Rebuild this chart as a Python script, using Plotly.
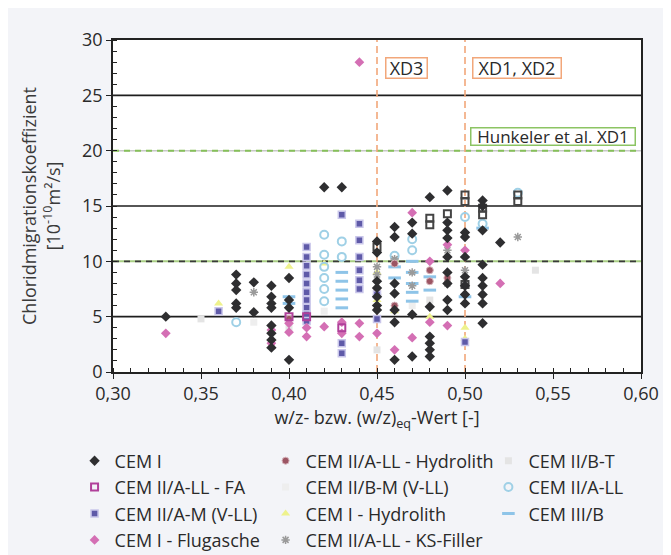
import plotly.graph_objects as go

# ---------------- data ----------------
cem1_x = [0.33,
          0.37, 0.37, 0.37, 0.37, 0.37,
          0.38, 0.38,
          0.39, 0.39, 0.39, 0.39, 0.39, 0.39, 0.39, 0.39,
          0.40, 0.40, 0.40, 0.40,
          0.42, 0.43,
          0.45, 0.45, 0.45, 0.45, 0.45, 0.45, 0.45,
          0.46, 0.46, 0.46, 0.46, 0.46, 0.46, 0.46,
          0.47, 0.47, 0.47, 0.47,
          0.48, 0.48, 0.48, 0.48, 0.48, 0.48,
          0.49, 0.49, 0.49, 0.49, 0.49, 0.49, 0.49, 0.49, 0.49,
          0.50, 0.50, 0.50, 0.50, 0.50, 0.50, 0.50,
          0.51, 0.51, 0.51, 0.51, 0.51, 0.51, 0.51, 0.51, 0.51,
          0.52]
cem1_y = [5.0,
          8.8, 8.0, 7.4, 6.2, 5.8,
          8.1, 5.4,
          7.8, 6.8, 6.2, 5.8, 4.2, 3.5, 2.9, 2.2,
          8.5, 6.5, 5.8, 1.1,
          16.7, 16.7,
          11.8, 10.8, 8.2, 7.6, 6.8, 6.0, 5.6,
          13.1, 12.2, 8.0, 7.1, 5.6, 4.5, 1.1,
          13.5, 12.5, 5.2, 1.4,
          15.8, 5.9, 3.2, 2.6, 2.0, 1.4,
          16.4, 13.5, 12.8, 12.1, 10.4, 9.0, 8.0, 6.5, 5.6,
          12.6, 12.2, 10.4, 8.6, 7.8, 7.0, 6.2,
          15.5, 15.0, 12.8, 9.7, 8.5, 7.8, 7.0, 6.2, 4.4,
          11.7]

fa_x = [0.40, 0.41, 0.43]
fa_y = [5.0, 5.0, 4.0]
fa_dark_x = [0.45, 0.48, 0.48, 0.49, 0.50, 0.50, 0.50, 0.51, 0.51, 0.53, 0.53]
fa_dark_y = [11.3, 13.9, 13.3, 14.3, 16.0, 15.4, 7.9, 14.8, 14.2, 16.0, 15.4]

am_x = [0.36,
        0.41, 0.41, 0.41, 0.41, 0.41, 0.41, 0.41, 0.41, 0.41, 0.41,
        0.43, 0.43, 0.43,
        0.44, 0.44, 0.44, 0.44, 0.44, 0.44,
        0.45, 0.45, 0.50]
am_y = [5.5,
        11.3, 10.4, 9.6, 8.8, 8.0, 7.2, 6.5, 5.8, 5.2, 4.6,
        14.2, 2.6, 1.7,
        13.4, 11.9, 10.4, 9.2, 8.3, 7.5,
        7.0, 4.8, 2.7]

flug_x = [0.33, 0.39, 0.39, 0.40, 0.40, 0.41, 0.41, 0.42, 0.43, 0.43,
          0.44, 0.44, 0.44, 0.45, 0.46, 0.47, 0.47, 0.48, 0.48, 0.49, 0.49,
          0.50, 0.52]
flug_y = [3.5, 3.8, 2.6, 4.4, 3.6, 4.0, 3.2, 4.1, 4.5, 3.5,
          28.0, 4.4, 3.2, 3.5, 2.0, 14.4, 3.1, 4.5, 10.0, 11.5, 4.2,
          11.0, 8.0]

hydll_x = [0.39, 0.40, 0.45, 0.46, 0.46, 0.48, 0.48, 0.49]
hydll_y = [2.6, 4.8, 7.3, 6.0, 9.8, 8.2, 9.2, 8.5]

bm_x = [0.38, 0.42, 0.45, 0.47]
bm_y = [4.5, 5.5, 8.5, 6.0]

hyd1_x = [0.36, 0.40, 0.42, 0.45, 0.45, 0.46, 0.48, 0.50, 0.50]
hyd1_y = [6.2, 9.5, 9.8, 9.0, 6.5, 5.5, 5.0, 4.0, 3.0]

ks_x = [0.38, 0.45, 0.45, 0.45, 0.46, 0.47, 0.47, 0.49, 0.49, 0.50, 0.50, 0.53]
ks_y = [7.2, 9.5, 8.8, 7.0, 10.2, 9.0, 7.8, 11.0, 8.0, 8.0, 9.2, 12.2]

bt_x = [0.35, 0.40, 0.45, 0.48, 0.54]
bt_y = [4.8, 4.0, 2.0, 6.5, 9.2]

all_x = [0.37, 0.42, 0.42, 0.42, 0.42, 0.42, 0.42, 0.43, 0.43, 0.46,
         0.47, 0.47, 0.50, 0.51, 0.53]
all_y = [4.5, 12.4, 10.6, 9.5, 8.5, 7.5, 6.4, 11.8, 10.4, 10.5,
         12.0, 11.0, 14.0, 13.4, 16.2]

c3b_x = [0.40, 0.40, 0.43, 0.43, 0.43, 0.43, 0.43, 0.46, 0.46,
         0.47, 0.47, 0.47, 0.47, 0.47, 0.48, 0.48, 0.50, 0.51]
c3b_y = [6.8, 6.2, 9.0, 8.2, 7.4, 6.6, 5.8, 9.5, 8.5,
         10.0, 9.0, 8.0, 7.2, 6.4, 8.6, 7.4, 6.8, 13.0]

grid_solid_y = [5, 15, 25]
limit_10 = 10
limit_20 = 20
wz_limits = [0.45, 0.50]
x_ticks = [0.30, 0.35, 0.40, 0.45, 0.50, 0.55, 0.60]
y_ticks = [0, 5, 10, 15, 20, 25, 30]

FONT = "Open Sans"
TXT = "#2a2a2a"
fig = go.Figure()


def add(name, x, y, legend, rank, marker, showlegend=True):
    fig.add_trace(go.Scatter(x=x, y=y, mode="markers", name=name, legend=legend,
                             legendrank=rank, marker=marker, showlegend=showlegend,
                             legendgroup=name))


add("CEM II/B-T", bt_x, bt_y, "legend3", 1,
    dict(symbol="square", size=7, color="#e4e4e4", line=dict(width=0)))
add("CEM II/B-M (V-LL)", bm_x, bm_y, "legend2", 2,
    dict(symbol="square", size=7, color="#eeeeee", line=dict(width=0)))
add("CEM I - Hydrolith", hyd1_x, hyd1_y, "legend2", 3,
    dict(symbol="triangle-up", size=8, color="#eef28c", line=dict(width=0)))
add("CEM III/B", c3b_x, c3b_y, "legend3", 3,
    dict(symbol="line-ew", size=9, color="#8ec4e8", line=dict(width=3, color="#8ec4e8")))
add("CEM II/A-LL", all_x, all_y, "legend3", 2,
    dict(symbol="circle-open", size=8, color="#9fd0e6", line=dict(width=2, color="#9fd0e6")))
add("CEM II/A-LL - KS-Filler", ks_x, ks_y, "legend2", 4,
    dict(symbol="asterisk-open", size=7, color="#9a9a9a", line=dict(width=1.5, color="#9a9a9a")))
add("CEM II/A-LL - Hydrolith", hydll_x, hydll_y, "legend2", 1,
    dict(symbol="circle", size=7, color="#9c5563", line=dict(width=1, color="#d6b3bb")))
add("CEM II/A-M (V-LL)", am_x, am_y, "legend", 3,
    dict(symbol="square", size=7, color="#5f5aa8", line=dict(width=1.5, color="#c9c6ea")))
add("CEM I - Flugasche", flug_x, flug_y, "legend", 4,
    dict(symbol="diamond", size=7.5, color="#d46fb4", line=dict(width=0)))
add("CEM II/A-LL - FA", fa_x, fa_y, "legend", 2,
    dict(symbol="square-open", size=7, color="#b0409a", line=dict(width=2, color="#b0409a")))
add("CEM II/A-LL - FA", fa_dark_x, fa_dark_y, "legend", 2,
    dict(symbol="square-open", size=7, color="#444444", line=dict(width=2, color="#444444")),
    showlegend=False)
add("CEM I", cem1_x, cem1_y, "legend", 1,
    dict(symbol="diamond", size=8, color="#2e2e30", line=dict(width=0)))

shapes = []
for gy in grid_solid_y:
    shapes.append(dict(type="line", xref="paper", yref="y", x0=0, x1=1, y0=gy, y1=gy,
                       line=dict(color="#1e1e1e", width=1.6), layer="below"))
shapes.append(dict(type="line", xref="paper", yref="y", x0=0, x1=1, y0=limit_10, y1=limit_10,
                   line=dict(color="#a9cf84", width=2), layer="below"))
shapes.append(dict(type="line", xref="paper", yref="y", x0=0, x1=1, y0=limit_10, y1=limit_10,
                   line=dict(color="#3a3a3a", width=1.6, dash="6px,5px"), layer="below"))
shapes.append(dict(type="line", xref="paper", yref="y", x0=0, x1=1, y0=limit_20, y1=limit_20,
                   line=dict(color="#c8c8c8", width=1.5), layer="below"))
shapes.append(dict(type="line", xref="paper", yref="y", x0=0, x1=1, y0=limit_20, y1=limit_20,
                   line=dict(color="#86c05a", width=2, dash="6px,5px"), layer="below"))
for vx in wz_limits:
    shapes.append(dict(type="line", xref="x", yref="y", x0=vx, x1=vx, y0=0, y1=30,
                       line=dict(color="#f2a77a", width=1.6, dash="7px,4px"), layer="below"))

annotations = [
    dict(x=0.4665, y=27.5, xref="x", yref="y", text="XD3", showarrow=False,
         width=38, height=17, font=dict(family=FONT, size=18, color=TXT),
         bordercolor="#f2a77a", borderwidth=1.5, borderpad=1, bgcolor="white"),
    dict(x=0.5294, y=27.5, xref="x", yref="y", text="XD1, XD2", showarrow=False,
         width=85, height=17, font=dict(family=FONT, size=18, color=TXT),
         bordercolor="#f2a77a", borderwidth=1.5, borderpad=1, bgcolor="white"),
    dict(x=0.5501, y=21.3, xref="x", yref="y", text="Hunkeler et al. XD1", showarrow=False,
         width=161, height=14, font=dict(family=FONT, size=17, color=TXT),
         bordercolor="#8cc463", borderwidth=1.5, borderpad=1, bgcolor="white"),
]

leg_common = dict(orientation="v", xanchor="left", yanchor="top", xref="paper",
                  yref="container", y=0.2057, bgcolor="rgba(0,0,0,0)",
                  font=dict(family=FONT, size=18, color=TXT), tracegroupgap=0,
                  itemsizing="trace", traceorder="normal")

# The page body has an 8px margin, so the figure is drawn 8px smaller and
# all layout positions are offset accordingly.
fig.update_layout(
    width=663, height=547,
    margin=dict(l=105, r=22, t=32, b=183),
    paper_bgcolor="#f3f4f8", plot_bgcolor="white",
    separators=",.",
    font=dict(family=FONT, color=TXT),
    shapes=shapes, annotations=annotations,
    legend=dict(x=-0.0728, **leg_common),
    legend2=dict(x=0.289, **leg_common),
    legend3=dict(x=0.711, **leg_common),
    xaxis=dict(range=[0.30, 0.60], tickvals=x_ticks, tickformat=".2f",
               showgrid=False, zeroline=False, showline=True, linecolor="#222",
               linewidth=1.5, mirror=True, ticks="outside", ticklen=5, tickcolor="#222",
               tickfont=dict(family=FONT, size=18, color=TXT),
               minor=dict(dtick=0.01, ticks="inside", ticklen=4, tickcolor="#222"),
               title=dict(text="w/z- bzw. (w/z)<sub>eq</sub>-Wert [-]",
                          font=dict(family=FONT, size=18, color=TXT), standoff=2)),
    yaxis=dict(range=[0, 30], tickvals=y_ticks, showgrid=False, zeroline=False,
               showline=True, linecolor="#222", linewidth=1.5, mirror=True,
               ticks="outside", ticklen=5, tickcolor="#222",
               tickfont=dict(family=FONT, size=18, color=TXT),
               minor=dict(dtick=1, ticks="inside", ticklen=4, tickcolor="#222"),
               title=dict(text="Chloridmigrationskoeffizient<br>[10<sup>-10</sup>m²/s]",
                          font=dict(family=FONT, size=18, color="#3a3a3a"), standoff=17)),
)

fig.write_html("out.html")
